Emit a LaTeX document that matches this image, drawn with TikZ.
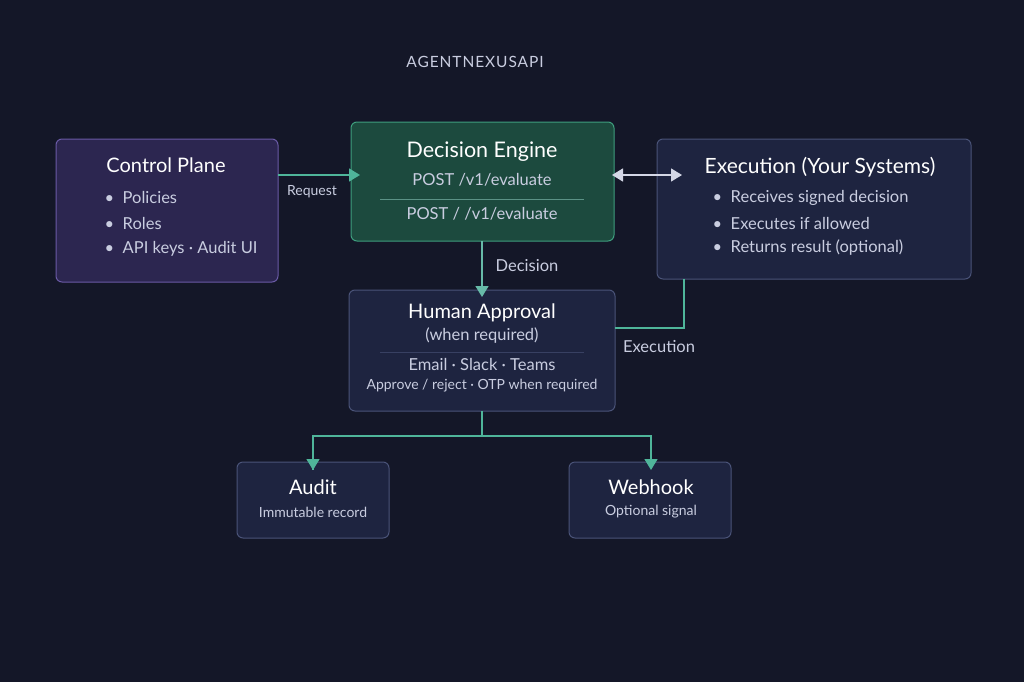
\documentclass[tikz,border=0pt]{standalone}
\usepackage{fontspec}
\setmainfont{Lato}
\usetikzlibrary{arrows.meta}
\definecolor{bg}{HTML}{141728}
\definecolor{cpfill}{HTML}{2C2650}
\definecolor{cpline}{HTML}{6A5AA6}
\definecolor{defill}{HTML}{1C4A3E}
\definecolor{deline}{HTML}{3E9E7E}
\definecolor{bxfill}{HTML}{1E2440}
\definecolor{bxline}{HTML}{4A5378}
\definecolor{teal}{HTML}{4FB59A}
\definecolor{txt}{HTML}{C9CDE0}
\tikzset{every picture/.style={line width=0.75pt}}
\tikzset{
  box/.style={draw=bxline,fill=bxfill,rounded corners=6pt,line width=1pt},
  ttl/.style={text=white,font=\fontsize{20}{22}\selectfont},
  itm/.style={text=txt,font=\fontsize{16.5}{18}\selectfont},
  sml/.style={text=txt,font=\fontsize{14}{16}\selectfont},
  link/.style={draw=teal,line width=1.4pt},
  tip/.style={-{Triangle[length=11pt,width=13pt]}}
}
\begin{document}
\begin{tikzpicture}[x=1pt,y=-1pt]
        \fill[bg] (0,0) rectangle (1024,682);
        \useasboundingbox (0,0) rectangle (1024,682);
        % Text Node
        \node (title) at (475,62) [text=txt,font=\fontsize{15.5}{17}\selectfont] {\addfontfeature{LetterSpace=6}AGENTNEXUSAPI};

        %Shape: boxes
        \draw[box,draw=cpline,fill=cpfill] (56,139) rectangle (278,282);
        \draw[box,draw=deline,fill=defill] (351,122) rectangle (614,241);
        \draw[box] (657,139) rectangle (971,279);
        \draw[box] (349,290) rectangle (615,411);
        \draw[box] (237,462) rectangle (389,538);
        \draw[box] (569,462) rectangle (731,538);

        %Straight Lines: connectors
        \coordinate (cpR) at (278,175);
        \coordinate (deL) at (360,175);
        \coordinate (deR) at (612,175);
        \coordinate (exL) at (682,175);
        \coordinate (deB) at (482,241);
        \coordinate (haT) at (482,297);
        \coordinate (exB) at (684,279);
        \coordinate (haR) at (615,328);
        \coordinate (haB) at (482,411);
        \coordinate (au) at (313,470);
        \coordinate (wh) at (651,470);
        \draw[link,tip] (cpR) -- (deL);
        \draw[draw=txt!80,line width=1.4pt,{Triangle[length=11pt,width=13pt]}-{Triangle[length=11pt,width=13pt]}] (deR) -- (exL);
        \draw[link,tip,draw=teal!80!txt] (deB) -- (haT);
        \draw[link] (exB) |- (haR);
        \draw[link] (haB) -- (482,436) -| (au);
        \draw[link,tip] (482,436) -| (wh);
        \draw[link,tip] (313,436) -- (au);

        % Text Node: Control Plane
        \node (cpT) at (166,165) [ttl] {Control Plane};
        \node (cp1) at (101,197) [itm,anchor=west] {•\ \ Policies};
        \node (cp2) at (101,223) [itm,anchor=west] {•\ \ Roles};
        \node (cp3) at (101,249) [itm,anchor=west] {•\ \ API keys · Audit UI};
        \node (req) at (312,192) [sml] {Request};
        % Text Node: Decision Engine
        \node (deT) at (482,152) [ttl,font=\fontsize{21.5}{23}\selectfont] {Decision Engine};
        \node (de1) at (482,180) [itm] {POST /v1/evaluate};
        \draw[deline!60!txt!70!defill,line width=0.5pt] (380,199) -- (584,199);
        \node (de2) at (482,214) [itm] {POST / /v1/evaluate};
        % Text Node: Execution
        \node (exT) at (820,167) [ttl,font=\fontsize{21}{23}\selectfont] {Execution (Your Systems)};
        \node (ex1) at (709,198) [itm,anchor=west] {•\ \ Receives signed decision};
        \node (ex2) at (709,223) [itm,anchor=west] {•\ \ Executes if allowed};
        \node (ex3) at (709,248) [itm,anchor=west] {•\ \ Returns result (optional)};
        \node (dec) at (527,266) [itm] {Decision};
        \node (exe) at (659,347) [itm] {Execution};
        % Text Node: Human Approval
        \node (haT) at (482,313) [ttl] {Human Approval};
        \node (ha1) at (482,336) [itm] {(when required)};
        \draw[bxline!60!bxfill,line width=0.5pt] (380,352) -- (584,352);
        \node (ha2) at (482,364) [itm] {Email · Slack · Teams};
        \node (ha3) at (482,386) [sml] {Approve / reject · OTP when required};
        % Text Node: Audit, Webhook
        \node (auT) at (313,487) [ttl] {Audit};
        \node (au1) at (313,512) [sml] {Immutable record};
        \node (whT) at (651,487) [ttl] {Webhook};
        \node (wh1) at (651,512) [sml] {Optional signal};
\end{tikzpicture}
\end{document}
